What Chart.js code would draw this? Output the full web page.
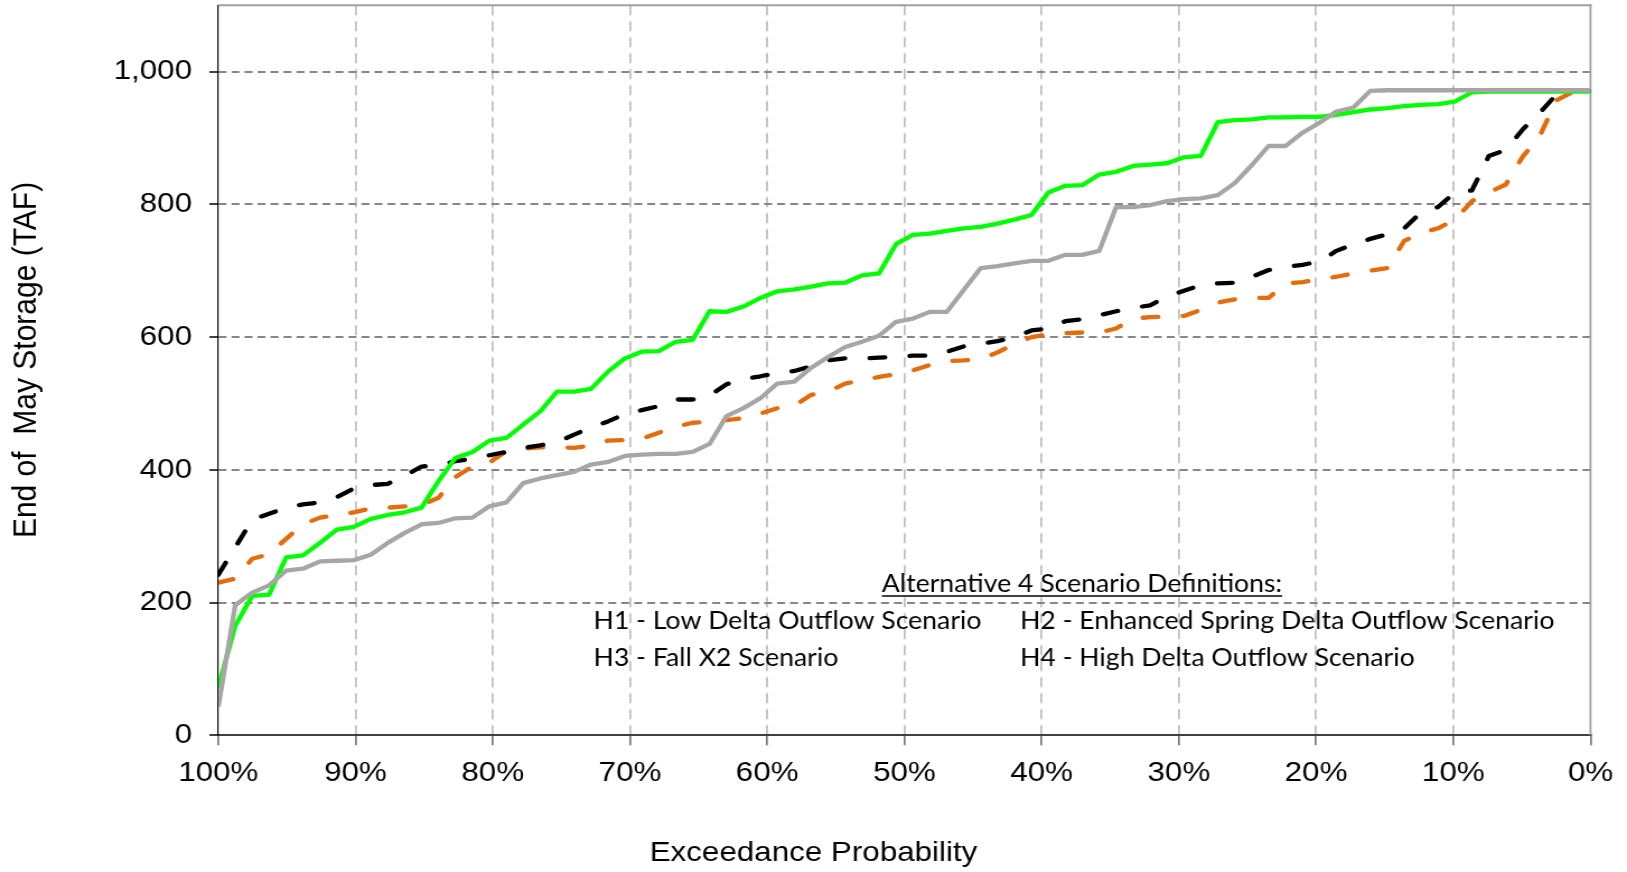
<!DOCTYPE html>
<html>
<head>
<meta charset="utf-8">
<title>End of May Storage - Exceedance Probability</title>
<script src="https://cdn.jsdelivr.net/npm/chart.js@4.4.1/dist/chart.umd.min.js"></script>
<style>
html,body{margin:0;padding:0;background:#ffffff;overflow:hidden;}
#chart{display:block;}
</style>
</head>
<body>
<canvas id="chart" width="1453" height="872" style="width:1627px;height:872px;display:block;"></canvas>
<script>
// ---------------- data ----------------
const exceedance = [100,98.77,97.53,96.30,95.06,93.83,92.59,91.36,90.12,88.89,87.65,86.42,85.19,83.95,82.72,81.48,80.25,79.01,77.78,76.54,75.31,74.07,72.84,71.60,70.37,69.14,67.90,66.67,65.43,64.20,62.96,61.73,60.49,59.26,58.02,56.79,55.56,54.32,53.09,51.85,50.62,49.38,48.15,46.91,45.68,44.44,43.21,41.98,40.74,39.51,38.27,37.04,35.80,34.57,33.33,32.10,30.86,29.63,28.40,27.16,25.93,24.69,23.46,22.22,20.99,19.75,18.52,17.28,16.05,14.81,13.58,12.35,11.11,9.88,8.64,7.41,6.17,4.94,3.70,2.47,1.23,0];

const greenStorage = [72,165,210,212,268,271,290,310,314,326,332,336,343,383,418,427,444,448,468,488,518,518,522,548,568,578,579,593,596,639,638,646,659,669,672,676,681,682,693,696,740,754,756,760,764,766,771,777,784,818,828,829,845,849,858,860,862,871,873,924,927,928,931,931,932,932,935,939,943,945,948,950,951,955,969,970,970,970,970,970,970,970];

const grayStorage = [43,196,215,226,248,251,262,263,264,272,290,305,318,320,327,328,345,351,380,387,392,397,408,412,421,423,424,424,427,439,481,493,508,530,533,554,570,585,593,602,623,628,638,638,671,704,707,711,715,715,724,724,730,796,796,799,805,808,809,814,832,859,888,888,908,923,940,946,971,972,972,972,972,972,972,972,972,972,972,972,972,972];

const blackStorage = [242,283,325,334,343,348,351,359,372,377,379,391,405,407,413,417,422,427,433,437,442,453,464,473,484,490,496,506,506,512,529,537,541,546,549,556,565,568,568,569,570,572,572,578,586,590,594,600,610,613,624,627,633,639,644,648,661,670,678,681,682,691,701,706,709,714,730,740,748,755,764,788,796,818,821,873,882,913,938,966,971,971];

const orangeStorage = [230,236,266,273,296,318,328,332,336,342,343,345,347,358,389,405,411,428,432,434,434,433,437,444,445,447,456,465,471,472,475,478,485,493,497,513,518,530,535,540,544,550,558,564,565,567,577,590,600,604,606,607,607,613,628,630,631,632,641,652,657,659,659,681,683,687,691,696,700,704,745,757,764,777,805,818,830,872,903,957,970,971];

const yTicks = [0,200,400,600,800,1000];
const xTicks = [100,90,80,70,60,50,40,30,20,10,0];

const xAxisTitle = 'Exceedance Probability';
const yAxisTitle = 'End of  May Storage (TAF)';
const noteTitle = 'Alternative 4 Scenario Definitions:';
const noteRows = [
  ['H1 - Low Delta Outflow Scenario', 'H2 - Enhanced Spring Delta Outflow Scenario'],
  ['H3 - Fall X2 Scenario', 'H4 - High Delta Outflow Scenario']
];

// ---------------- layout ----------------
const FULL_W = 1627, CANVAS_W = 1453, CANVAS_H = 872;
const SX = FULL_W / CANVAS_W;           // horizontal stretch of the picture
const px = v => v / SX;                  // picture x -> canvas x
const plotLeft = px(218.3), plotRight = px(1590.5), plotTop = 5.3, plotBottom = 735.3;
const AXIS_FONT = '"Liberation Sans", Arial, Helvetica, sans-serif';
const NOTE_FONT = 'Lato, "Open Sans", sans-serif';

const pts = vals => exceedance.map((p, i) => ({x: p, y: vals[i]}));
const fmt = v => String(v).replace(/\B(?=(\d{3})+(?!\d))/g, ',');

const decor = {
  id: 'decor',
  beforeDatasetsDraw(chart) {
    const {ctx, chartArea: a} = chart;
    ctx.save();
    ctx.strokeStyle = '#A0A0A0';
    ctx.lineWidth = 2;
    ctx.beginPath(); ctx.moveTo(a.left, a.top); ctx.lineTo(a.right + 1, a.top); ctx.stroke();
    ctx.lineWidth = 1.8;
    ctx.beginPath(); ctx.moveTo(a.right, a.top - 1); ctx.lineTo(a.right, a.bottom); ctx.stroke();
    ctx.restore();
  },
  afterDatasetsDraw(chart) {
    const ctx = chart.ctx;
    ctx.save();
    ctx.fillStyle = '#000';
    ctx.textAlign = 'center';
    ctx.textBaseline = 'middle';
    ctx.font = '28px ' + AXIS_FONT;
    ctx.fillText(xAxisTitle, px(813.5), 853);
    ctx.save();
    ctx.translate(px(26.5), 360);
    ctx.rotate(-Math.PI / 2);
    ctx.font = '30px ' + AXIS_FONT;
    ctx.fillText(yAxisTitle, 0, 0);
    ctx.restore();

    // scenario definitions note: Lato sized to the reference cap height,
    // squeezed horizontally to the reference line width (Calibri is narrower)
    const size = 25.5;
    ctx.font = size + 'px ' + NOTE_FONT;
    const w0 = ctx.measureText(noteRows[0][0]).width;
    const squeeze = px(388) / w0;
    const drawText = (t, x, y, align) => {
      ctx.save();
      ctx.translate(x, y);
      ctx.scale(squeeze, 1);
      ctx.textAlign = align;
      ctx.fillText(t, 0, 0);
      ctx.restore();
    };
    const tw = ctx.measureText(noteTitle).width * squeeze;
    const tcx = px(1082);
    const ty = 583.5;
    drawText(noteTitle, tcx, ty, 'center');
    ctx.strokeStyle = '#000';
    ctx.lineWidth = 1.7;
    ctx.beginPath();
    ctx.moveTo(tcx - tw / 2, ty + 12.5);
    ctx.lineTo(tcx + tw / 2, ty + 12.5);
    ctx.stroke();
    const colX = [px(593.5), px(1020)];
    const rowY = [621, 657.5];
    noteRows.forEach((row, r) => row.forEach((t, c) => drawText(t, colX[c], rowY[r], 'left')));
    ctx.restore();
  }
};

const canvas = document.getElementById('chart');
new Chart(canvas, {
  type: 'line',
  data: {
    datasets: [
      {label: 'Green scenario', data: pts(greenStorage), borderColor: '#00FF00', borderWidth: 4.3, order: 1},
      {label: 'Gray scenario', data: pts(grayStorage), borderColor: '#A6A6A6', borderWidth: 4.3, order: 0},
      {label: 'Black dashed scenario', data: pts(blackStorage), borderColor: '#000000', borderWidth: 4.3,
       borderDash: [13.6, 22.2], borderCapStyle: 'round', order: 2},
      {label: 'Orange dashed scenario', data: pts(orangeStorage), borderColor: '#E46C0A', borderWidth: 4.3,
       borderDash: [13.6, 22.2], borderCapStyle: 'round', order: 3}
    ]
  },
  options: {
    responsive: false,
    animation: false,
    devicePixelRatio: 1,
    layout: {padding: {left: 0, top: plotTop, right: CANVAS_W - plotRight, bottom: 0}},
    plugins: {legend: {display: false}, tooltip: {enabled: false}, title: {display: false}},
    elements: {point: {radius: 0}, line: {tension: 0, borderJoinStyle: 'round', fill: false}},
    scales: {
      x: {
        type: 'linear', reverse: true, min: 0, max: 100,
        afterBuildTicks: s => { s.ticks = xTicks.map(v => ({value: v})); },
        afterFit: s => { s.height = CANVAS_H - plotBottom; s.paddingLeft = 0; s.paddingRight = 0; },
        ticks: {autoSkip: false, maxRotation: 0, minRotation: 0, padding: 11, color: '#000',
                font: {family: AXIS_FONT, size: 28}, callback: v => v + '%'},
        grid: {color: c => (c.tick && (c.tick.value === 100 || c.tick.value === 0)) ? 'rgba(0,0,0,0)' : '#C0C0C0',
               lineWidth: 1.8, tickLength: 10, tickColor: '#404040', tickWidth: 1.2, tickBorderDash: []},
        border: {display: true, color: '#404040', width: 2, dash: [10, 6]}
      },
      y: {
        min: 0, max: 1100,
        afterBuildTicks: s => { s.ticks = yTicks.map(v => ({value: v})); },
        afterFit: s => { s.width = plotLeft; s.paddingTop = 0; s.paddingBottom = 0; },
        ticks: {padding: 15.5, color: '#000', font: {family: AXIS_FONT, size: 28}, callback: v => fmt(v)},
        grid: {color: c => (c.tick && c.tick.value === 0) ? 'rgba(0,0,0,0)' : '#868686',
               lineWidth: 2, tickLength: 8, tickColor: '#000', tickWidth: 1.5, tickBorderDash: []},
        border: {display: true, color: '#000', width: 1.2, dash: [7.1, 4.5]}
      }
    }
  },
  plugins: [decor]
});
canvas.style.width = FULL_W + 'px';
canvas.style.height = CANVAS_H + 'px';
</script>
</body>
</html>
